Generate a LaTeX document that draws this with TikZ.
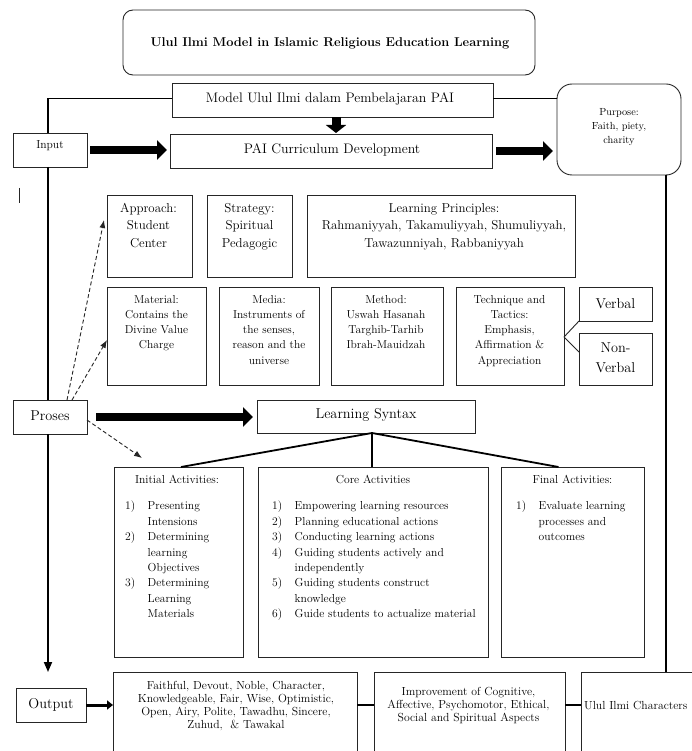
\documentclass[tikz,border=0pt]{standalone}
\usepackage{fontspec}
\usetikzlibrary{arrows.meta}
\newcommand\lnum[1]{\makebox[22.5pt][l]{#1}}
\newcommand\lind{\hspace*{22.5pt}}
\begin{document}
\begin{tikzpicture}[x=1pt,y=-1pt,
  bx/.style={draw=black!85, line width=0.9pt, inner sep=0pt, outer sep=0pt},
  tx/.style={inner sep=0pt, align=center, text=black},
  conn/.style={draw=black, line width=1.8pt},
  thinln/.style={draw=black!85, line width=0.9pt},
  fat/.style={draw=black, line width=8pt, -{Triangle[length=10pt,width=19pt]}},
  dsh/.style={draw=black!85, line width=0.9pt, dash pattern=on 4pt off 2.5pt, -{Latex[length=8pt,width=6pt]}},
  fA/.style={font=\fontsize{13.8}{16}\selectfont},
  fB/.style={font=\fontsize{12.9}{17.5}\selectfont},
  fC/.style={font=\fontsize{11.5}{15.1}\selectfont},
  fD/.style={font=\fontsize{14.3}{20}\selectfont},
  fE/.style={font=\fontsize{11.6}{15.4}\selectfont},
  fF/.style={font=\fontsize{11.7}{12.8}\selectfont},
]
\useasboundingbox (0,0) rectangle (692,751);
\clip (0,0) rectangle (692,751);
\fill[white] (0,0) rectangle (692,751);

% top
\node[bx, rounded corners=10pt, minimum width=412pt, minimum height=65pt] (title) at (329,42.5) {};
\node[tx, font=\fontsize{12.8}{15}\selectfont\bfseries] (titleT) at (330,43) {Ulul Ilmi Model in Islamic Religious Education Learning};

\node[bx, minimum width=321pt, minimum height=34pt] (model) at (332.5,100) {};
\node[tx, fA] (modelT) at (330,98.5) {Model Ulul Ilmi dalam Pembelajaran PAI};

\node[bx, minimum width=74pt, minimum height=34pt] (input) at (50,150) {};
\node[tx, font=\fontsize{11.6}{14}\selectfont] (inputT) at (50,146) {Input};

\node[bx, minimum width=322pt, minimum height=34pt] (pai) at (331,151) {};
\node[tx, fA] (paiT) at (332,149.5) {PAI Curriculum Development};

\node[bx, rounded corners=15pt, minimum width=124pt, minimum height=91pt] (purpose) at (619,129.5) {};
\node[tx, font=\fontsize{10.3}{14}\selectfont, anchor=north] (purposeT) at (619,108.5) {Purpose:\\Faith, piety,\\charity};

% row 1
\node[bx, minimum width=85pt, minimum height=82pt] (approach) at (149.5,236) {};
\node[tx, fB, anchor=north] (approachT) at (148.5,203) {Approach:\\Student\\Center};
\node[bx, minimum width=85pt, minimum height=82pt] (strategy) at (249.5,236) {};
\node[tx, fB, anchor=north] (strategyT) at (249.5,203) {Strategy:\\Spiritual\\Pedagogic};
\node[bx, minimum width=268pt, minimum height=82pt] (principles) at (441,236) {};
\node[tx, fB, anchor=north] (principlesT) at (444,203) {Learning Principles:\\Rahmaniyyah, Takamuliyyah, Shumuliyyah,\\Tawazunniyah, Rabbaniyyah};

% row 2
\node[bx, minimum width=99pt, minimum height=98pt] (material) at (156.5,336) {};
\node[tx, fC, anchor=north] (materialT) at (156.5,295.5) {Material:\\Contains the\\Divine Value\\Charge};
\node[bx, minimum width=100pt, minimum height=98pt] (media) at (269,336) {};
\node[tx, fC, anchor=north] (mediaT) at (269,295.5) {Media:\\Instruments of\\the senses,\\reason and the\\universe};
\node[bx, minimum width=112pt, minimum height=98pt] (method) at (387,336) {};
\node[tx, fC, anchor=north] (methodT) at (386,295.5) {Method:\\Uswah Hasanah\\Targhib-Tarhib\\Ibrah-Mauidzah};
\node[bx, minimum width=108pt, minimum height=98pt] (technique) at (510,336) {};
\node[tx, fC, anchor=north] (techniqueT) at (509.5,295.5) {Technique and\\Tactics:\\Emphasis,\\Affirmation \&\\Appreciation};
\node[bx, minimum width=73pt, minimum height=34pt] (verbal) at (615.5,304) {};
\node[tx, fD] (verbalT) at (615.5,303.5) {Verbal};
\node[bx, minimum width=73pt, minimum height=52pt] (nonverbal) at (615.5,359) {};
\node[tx, fD] (nonverbalT) at (615.5,358) {Non-\\Verbal};

% process row
\node[bx, minimum width=74pt, minimum height=34pt] (proses) at (50,417) {};
\node[tx, fD] (prosesT) at (50,416) {Proses};
\node[bx, minimum width=218pt, minimum height=33pt] (syntax) at (366,416.5) {};
\node[tx, font=\fontsize{14.3}{17}\selectfont] (syntaxT) at (366,415) {Learning Syntax};

% activities
\node[bx, minimum width=129pt, minimum height=190pt] (initial) at (178.5,562) {};
\node[tx, fE, anchor=north] (initialT) at (177,475) {Initial Activities:};
\node[tx, fE, align=left, anchor=north west] (initialL) at (125,501) {\lnum{1)}Presenting\\\lind Intensions\\\lnum{2)}Determining\\\lind learning\\\lind Objectives\\\lnum{3)}Determining\\\lind Learning\\\lind Materials};

\node[bx, minimum width=230pt, minimum height=190pt] (core) at (373,562) {};
\node[tx, fE, anchor=north] (coreT) at (373,475) {Core Activities};
\node[tx, fE, align=left, anchor=north west] (coreL) at (272,501) {\lnum{1)}Empowering learning resources\\\lnum{2)}Planning educational actions\\\lnum{3)}Conducting learning actions\\\lnum{4)}Guiding students actively and\\\lind independently\\\lnum{5)}Guiding students construct\\\lind knowledge\\\lnum{6)}Guide students to actualize material};

\node[bx, minimum width=143pt, minimum height=190pt] (final) at (572.5,562) {};
\node[tx, fE, anchor=north] (finalT) at (572.5,475) {Final Activities:};
\node[tx, fE, align=left, anchor=north west] (finalL) at (516,501) {\lnum{1)}Evaluate learning\\\lind processes and\\\lind outcomes};

% output row
\node[bx, minimum width=70pt, minimum height=34pt] (output) at (51,705) {};
\node[tx, fD] (outputT) at (51,704.5) {Output};
\node[bx, minimum width=244pt, minimum height=100pt] (faithful) at (235,722) {};
\node[tx, fF, anchor=north] (faithfulT) at (236,681.5) {Faithful, Devout, Noble, Character,\\Knowledgeable, Fair, Wise, Optimistic,\\Open, Airy, Polite, Tawadhu, Sincere,\\Zuhud,\ \ \& Tawakal};
\node[bx, minimum width=191pt, minimum height=100pt] (improve) at (469.5,722) {};
\node[tx, fF, anchor=north] (improveT) at (468.5,687.5) {Improvement of Cognitive,\\Affective, Psychomotor, Ethical,\\Social and Spiritual Aspects};
\node[bx, minimum width=125pt, minimum height=100pt] (ulul) at (643.5,722) {};
\node[tx, fF, anchor=west] (ululT) at (584,705) {Ulul Ilmi Characters};

% helper coordinates
\coordinate (lx) at (48,0);
\coordinate (rx) at (666,0);
\coordinate (rowy) at (0,705);
\coordinate (outtip) at (48,672);
\coordinate (dtip) at (142,458);
\coordinate (sj) at ([xshift=6pt]syntax.south);

% frame lines
\draw[conn] ([yshift=1.5pt]model.west) -| (input.north -| lx);
\draw[conn] (input.south -| lx) -- (proses.north -| lx);
\draw[conn, -{Triangle[length=10pt,width=8pt]}] (proses.south -| lx) -- (outtip);
\draw[draw=black, line width=1.5pt] ([yshift=1.5pt]model.east) -- ([yshift=1.5pt]model.east -| purpose.west);
\draw[conn] (purpose.south -| rx) -- (ulul.north -| rx);

% fat arrows
\draw[fat, shorten <=3pt, shorten >=3pt] (input.east) -- (input.east -| pai.west);
\draw[fat, shorten <=4pt, shorten >=4pt] (pai.east) -- (pai.east -| purpose.west);
\draw[fat, shorten <=9pt, shorten >=4pt] (proses.east) -- (proses.east -| syntax.west);
\draw[draw=black, line width=9pt, -{Triangle[length=8pt,width=20pt]}, shorten >=1pt] ([xshift=3.5pt]model.south) -- ([xshift=3.5pt]model.south |- pai.north);

% dashed arrows
\draw[dsh] ([xshift=17pt]proses.north) -- ([xshift=-3pt,yshift=16pt]approach.west);
\draw[dsh] ([xshift=22pt]proses.north) -- ([yshift=-4pt]material.west);
\draw[dsh] ([yshift=-3pt]proses.east) -- (dtip);

% syntax branches
\draw[conn] (sj) -- ([xshift=2.5pt]initial.north);
\draw[conn] (sj) -- (sj |- core.north);
\draw[conn] (sj) -- ([xshift=-14pt]final.north);

% technique branches
\draw[thinln] ([yshift=-1pt]technique.east) -- (verbal.south west);
\draw[thinln] ([yshift=-1pt]technique.east) -- ([yshift=7pt]nonverbal.west);

% output row links
\draw[draw=black, line width=3pt, -{Triangle[length=6pt,width=9pt]}] (output.east) -- (output.east -| faithful.west);
\draw[conn] (faithful.east |- rowy) -- (improve.west |- rowy);
\draw[conn] (improve.east |- rowy) -- (ulul.west |- rowy);

% stray mark
\draw[thinln] (19,188) -- (19,203);
\end{tikzpicture}
\end{document}
